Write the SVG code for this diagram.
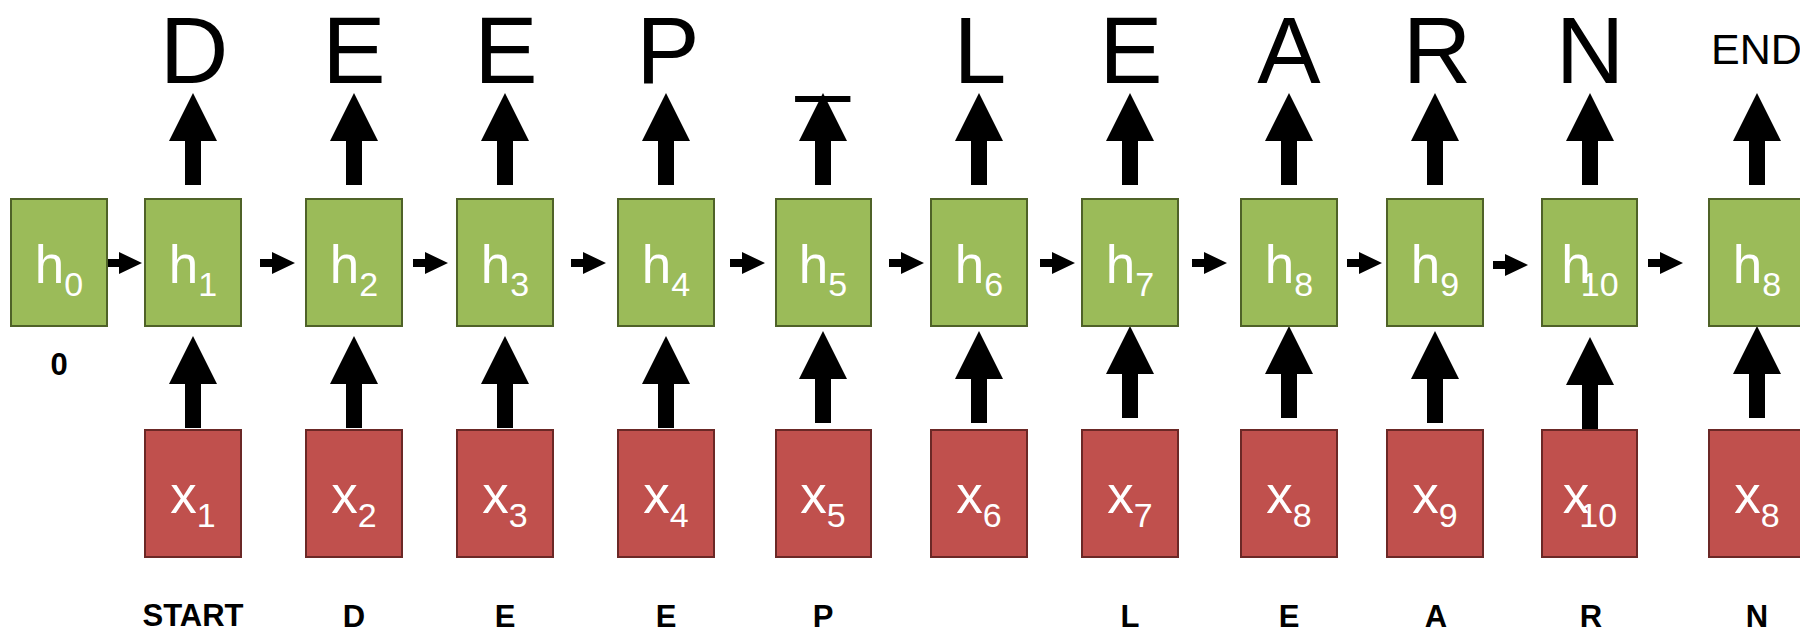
<svg xmlns="http://www.w3.org/2000/svg" xmlns:xlink="http://www.w3.org/1999/xlink" width="1800" height="630" viewBox="0 0 1800 630">
  <style>
    text { font-family: "Liberation Sans", Arial, sans-serif; }
    .h rect { fill: #9BBB59; stroke: #4F6228; stroke-width: 2; }
    .x rect { fill: #C0504D; stroke: #6B2826; stroke-width: 2; }
    .cell { fill: #FFFFFF; font-size: 53px; text-anchor: middle; }
    .sub { font-size: 34px; }
    .out { fill: #000000; font-size: 95px; text-anchor: middle; }
    .end { fill: #000000; font-size: 43px; }
    .in { fill: #000000; font-size: 31px; font-weight: bold; text-anchor: middle; }
    .arrow { fill: #000000; }
  </style>
  <defs>
    <!-- thick upward block arrow, tip at origin -->
    <path id="up" d="M0,0 L24,48 L8,48 L8,92 L-8,92 L-8,48 L-24,48 Z"/>
    <!-- short rightward block arrow, tip at origin -->
    <path id="right" d="M0,0 L-23,-11 L-23,-4 L-35,-4 L-35,4 L-23,4 L-23,11 Z"/>
  </defs>

  <rect width="1800" height="630" fill="#FFFFFF"/>

  <!-- connectors -->
  <g id="connectors" class="arrow">
    <!-- recurrent links h(t-1) -> h(t) -->
    <use xlink:href="#right" x="142" y="263"/>
    <use xlink:href="#right" x="295" y="263"/>
    <use xlink:href="#right" x="448" y="263"/>
    <use xlink:href="#right" x="606" y="263"/>
    <use xlink:href="#right" x="765" y="263"/>
    <use xlink:href="#right" x="924" y="263"/>
    <use xlink:href="#right" x="1075" y="263"/>
    <use xlink:href="#right" x="1227" y="263"/>
    <use xlink:href="#right" x="1382" y="263"/>
    <use xlink:href="#right" x="1528" y="265"/>
    <use xlink:href="#right" x="1683" y="263"/>
    <!-- outputs h(t) -> character -->
    <use xlink:href="#up" x="193" y="93"/>
    <use xlink:href="#up" x="354" y="93"/>
    <use xlink:href="#up" x="505" y="93"/>
    <use xlink:href="#up" x="666" y="93"/>
    <use xlink:href="#up" x="823" y="93"/>
    <use xlink:href="#up" x="979" y="93"/>
    <use xlink:href="#up" x="1130" y="93"/>
    <use xlink:href="#up" x="1289" y="93"/>
    <use xlink:href="#up" x="1435" y="93"/>
    <use xlink:href="#up" x="1590" y="93"/>
    <use xlink:href="#up" x="1757" y="93"/>
    <!-- inputs x(t) -> h(t) -->
    <use xlink:href="#up" x="193" y="336"/>
    <use xlink:href="#up" x="354" y="336"/>
    <use xlink:href="#up" x="505" y="336"/>
    <use xlink:href="#up" x="666" y="336"/>
    <use xlink:href="#up" x="823" y="331"/>
    <use xlink:href="#up" x="979" y="331"/>
    <use xlink:href="#up" x="1130" y="326"/>
    <use xlink:href="#up" x="1289" y="326"/>
    <use xlink:href="#up" x="1435" y="331"/>
    <use xlink:href="#up" x="1590" y="337"/>
    <use xlink:href="#up" x="1757" y="326"/>
  </g>

  <!-- hidden states -->
  <g id="h0" class="h"><rect x="11" y="199" width="96" height="127"/><text class="cell" x="59" y="283">h<tspan class="sub" dy="13">0</tspan></text></g>
  <g id="h1" class="h"><rect x="145" y="199" width="96" height="127"/><text class="cell" x="193" y="283">h<tspan class="sub" dy="13">1</tspan></text></g>
  <g id="h2" class="h"><rect x="306" y="199" width="96" height="127"/><text class="cell" x="354" y="283">h<tspan class="sub" dy="13">2</tspan></text></g>
  <g id="h3" class="h"><rect x="457" y="199" width="96" height="127"/><text class="cell" x="505" y="283">h<tspan class="sub" dy="13">3</tspan></text></g>
  <g id="h4" class="h"><rect x="618" y="199" width="96" height="127"/><text class="cell" x="666" y="283">h<tspan class="sub" dy="13">4</tspan></text></g>
  <g id="h5" class="h"><rect x="776" y="199" width="95" height="127"/><text class="cell" x="823" y="283">h<tspan class="sub" dy="13">5</tspan></text></g>
  <g id="h6" class="h"><rect x="931" y="199" width="96" height="127"/><text class="cell" x="979" y="283">h<tspan class="sub" dy="13">6</tspan></text></g>
  <g id="h7" class="h"><rect x="1082" y="199" width="96" height="127"/><text class="cell" x="1130" y="283">h<tspan class="sub" dy="13">7</tspan></text></g>
  <g id="h8" class="h"><rect x="1241" y="199" width="96" height="127"/><text class="cell" x="1289" y="283">h<tspan class="sub" dy="13">8</tspan></text></g>
  <g id="h9" class="h"><rect x="1387" y="199" width="96" height="127"/><text class="cell" x="1435" y="283">h<tspan class="sub" dy="13">9</tspan></text></g>
  <g id="h10" class="h"><rect x="1542" y="199" width="95" height="127"/><text class="cell" x="1590" y="283">h<tspan class="sub" dx="-10" dy="13">10</tspan></text></g>
  <g id="h11" class="h"><rect x="1709" y="199" width="96" height="127"/><text class="cell" x="1757" y="283">h<tspan class="sub" dy="13">8</tspan></text></g>

  <!-- inputs -->
  <g id="x1" class="x"><rect x="145" y="430" width="96" height="127"/><text class="cell" x="193" y="513">x<tspan class="sub" dy="14">1</tspan></text></g>
  <g id="x2" class="x"><rect x="306" y="430" width="96" height="127"/><text class="cell" x="354" y="513">x<tspan class="sub" dy="14">2</tspan></text></g>
  <g id="x3" class="x"><rect x="457" y="430" width="96" height="127"/><text class="cell" x="505" y="513">x<tspan class="sub" dy="14">3</tspan></text></g>
  <g id="x4" class="x"><rect x="618" y="430" width="96" height="127"/><text class="cell" x="666" y="513">x<tspan class="sub" dy="14">4</tspan></text></g>
  <g id="x5" class="x"><rect x="776" y="430" width="95" height="127"/><text class="cell" x="823" y="513">x<tspan class="sub" dy="14">5</tspan></text></g>
  <g id="x6" class="x"><rect x="931" y="430" width="96" height="127"/><text class="cell" x="979" y="513">x<tspan class="sub" dy="14">6</tspan></text></g>
  <g id="x7" class="x"><rect x="1082" y="430" width="96" height="127"/><text class="cell" x="1130" y="513">x<tspan class="sub" dy="14">7</tspan></text></g>
  <g id="x8" class="x"><rect x="1241" y="430" width="96" height="127"/><text class="cell" x="1289" y="513">x<tspan class="sub" dy="14">8</tspan></text></g>
  <g id="x9" class="x"><rect x="1387" y="430" width="96" height="127"/><text class="cell" x="1435" y="513">x<tspan class="sub" dy="14">9</tspan></text></g>
  <g id="x10" class="x"><rect x="1542" y="430" width="95" height="127"/><text class="cell" x="1590" y="513">x<tspan class="sub" dx="-10" dy="14">10</tspan></text></g>
  <g id="x11" class="x"><rect x="1709" y="430" width="96" height="127"/><text class="cell" x="1757" y="513">x<tspan class="sub" dy="14">8</tspan></text></g>

  <!-- predicted characters -->
  <g id="outputs">
    <text class="out" x="194" y="83">D</text>
    <text class="out" x="354" y="83">E</text>
    <text class="out" x="506" y="83">E</text>
    <text class="out" x="668" y="83">P</text>
    <text class="out" x="823" y="83">_</text>
    <text class="out" x="980" y="83">L</text>
    <text class="out" x="1131" y="83">E</text>
    <text class="out" x="1289" y="83">A</text>
    <text class="out" x="1437" y="83">R</text>
    <text class="out" x="1590" y="83">N</text>
    <text class="end" x="1711" y="64">END</text>
  </g>

  <!-- input characters -->
  <g id="inputs">
    <text class="in" x="59" y="375">0</text>
    <text class="in" x="193" y="626">START</text>
    <text class="in" x="354" y="627">D</text>
    <text class="in" x="505" y="627">E</text>
    <text class="in" x="666" y="627">E</text>
    <text class="in" x="823" y="627">P</text>
    <text class="in" x="1130" y="627">L</text>
    <text class="in" x="1289" y="627">E</text>
    <text class="in" x="1436" y="627">A</text>
    <text class="in" x="1591" y="627">R</text>
    <text class="in" x="1757" y="627">N</text>
  </g>
</svg>
